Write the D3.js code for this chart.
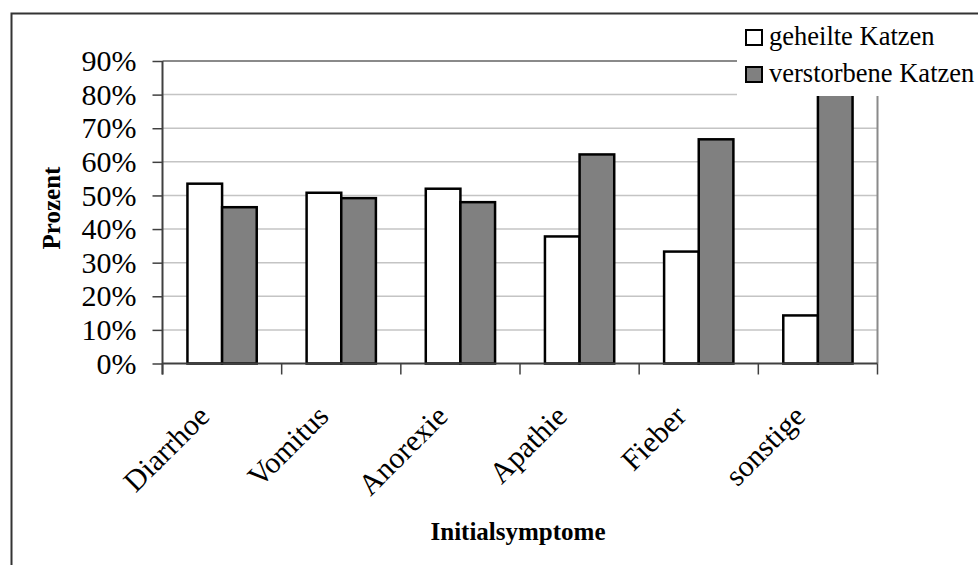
<!DOCTYPE html>
<html>
<head>
<meta charset="utf-8">
<script src="https://cdn.jsdelivr.net/npm/d3@7"></script>
<style>
  html, body { margin: 0; padding: 0; background: #fff; }
  svg { display: block; }
  text { font-family: "Liberation Serif", "Times New Roman", serif; fill: #000; }
</style>
</head>
<body>
<svg id="chart" width="978" height="565"></svg>
<script>
// Initial symptoms of cats: share healed vs. died per symptom (%)
const categories = ["Diarrhoe", "Vomitus", "Anorexie", "Apathie", "Fieber", "sonstige"];
const seriesNames = ["geheilte Katzen", "verstorbene Katzen"];
const geheilt = [53.5, 50.8, 52.0, 37.8, 33.3, 14.3];
const verstorben = [46.5, 49.2, 48.0, 62.2, 66.7, 85.7];
const yTicks = [0, 10, 20, 30, 40, 50, 60, 70, 80, 90];
const seriesFill = ["#ffffff", "#808080"];

const svg = d3.select("#chart");

// outer chart frame
svg.append("rect")
  .attr("x", 11.5).attr("y", 13.5)
  .attr("width", 1000).attr("height", 600)
  .attr("fill", "none").attr("stroke", "#333").attr("stroke-width", 2);

const plot = { left: 162.5, right: 877.5, top: 61, bottom: 363.5 };

const y = d3.scaleLinear().domain([0, 90]).range([plot.bottom, plot.top]);
const x0 = d3.scaleBand().domain(categories).range([plot.left, plot.right]).padding(0);
const x1 = d3.scaleBand().domain(seriesNames).range([0, x0.bandwidth()])
  .paddingInner(0).paddingOuter(0.72);

// gridlines
svg.append("g").selectAll("line")
  .data(yTicks.filter(t => t > 0 && t < 90))
  .join("line")
  .attr("x1", plot.left).attr("x2", plot.right)
  .attr("y1", d => y(d)).attr("y2", d => y(d))
  .attr("stroke", "#c4c4c4").attr("stroke-width", 1.5);

// plot area border (top and right)
svg.append("path")
  .attr("d", `M${plot.left},${y(90)}H${plot.right}V${plot.bottom}`)
  .attr("fill", "none").attr("stroke", "#8a8a8a").attr("stroke-width", 2);

// bars
const rows = categories.map((c, i) => ({ cat: c, vals: [geheilt[i], verstorben[i]] }));
const groups = svg.append("g").selectAll("g")
  .data(rows).join("g")
  .attr("transform", d => `translate(${x0(d.cat)},0)`);
groups.selectAll("rect")
  .data(d => d.vals.map((v, j) => ({ name: seriesNames[j], v, j })))
  .join("rect")
  .attr("x", d => x1(d.name))
  .attr("width", x1.bandwidth())
  .attr("y", d => y(d.v))
  .attr("height", d => y(0) - y(d.v))
  .attr("fill", d => seriesFill[d.j])
  .attr("stroke", "#000").attr("stroke-width", 2.5);

// y axis
const yAxis = svg.append("g")
  .attr("transform", `translate(${plot.left},0)`)
  .call(d3.axisLeft(y).tickValues(yTicks).tickFormat(d => d + "%")
    .tickSize(10).tickSizeOuter(0).tickPadding(16));
yAxis.select(".domain").attr("stroke", "#404040").attr("stroke-width", 2)
  .attr("d", `M0,${y(90)}V${plot.bottom + 11}`);
yAxis.selectAll(".tick line").attr("stroke", "#404040").attr("stroke-width", 1.5);
yAxis.selectAll(".tick text")
  .attr("font-size", 30).attr("font-family", "Liberation Serif").attr("fill", "#000");

// x axis line and category boundary ticks
svg.append("line")
  .attr("x1", plot.left).attr("x2", plot.right)
  .attr("y1", plot.bottom).attr("y2", plot.bottom)
  .attr("stroke", "#404040").attr("stroke-width", 2);
const bounds = categories.map(c => x0(c)).concat([plot.right]);
svg.append("g").selectAll("line")
  .data(bounds).join("line")
  .attr("x1", d => d).attr("x2", d => d)
  .attr("y1", plot.bottom).attr("y2", plot.bottom + 11)
  .attr("stroke", "#404040").attr("stroke-width", 1.5);

// rotated category labels
svg.append("g").selectAll("text")
  .data(categories).join("text")
  .attr("transform", d => `translate(${x0(d) + x0.bandwidth() / 2 - 11},418) rotate(-45)`)
  .attr("text-anchor", "end")
  .attr("font-size", 30)
  .text(d => d);

// axis titles
svg.append("text")
  .attr("x", 518).attr("y", 540)
  .attr("text-anchor", "middle")
  .attr("font-size", 25).attr("font-weight", "bold")
  .text("Initialsymptome");
svg.append("text")
  .attr("transform", "translate(60,208) rotate(-90)")
  .attr("text-anchor", "middle")
  .attr("font-size", 25).attr("font-weight", "bold")
  .text("Prozent");

// legend
const legend = svg.append("g");
legend.append("rect")
  .attr("x", 737).attr("y", 15).attr("width", 260).attr("height", 81)
  .attr("fill", "#fff");
const items = legend.selectAll("g")
  .data(seriesNames).join("g")
  .attr("transform", (d, i) => `translate(746,${30 + i * 37})`);
items.append("rect")
  .attr("width", 16).attr("height", 15)
  .attr("fill", (d, i) => seriesFill[i])
  .attr("stroke", "#000").attr("stroke-width", 2);
items.append("text")
  .attr("x", 23).attr("y", 15)
  .attr("font-size", 26.5)
  .text(d => d);
</script>
</body>
</html>
